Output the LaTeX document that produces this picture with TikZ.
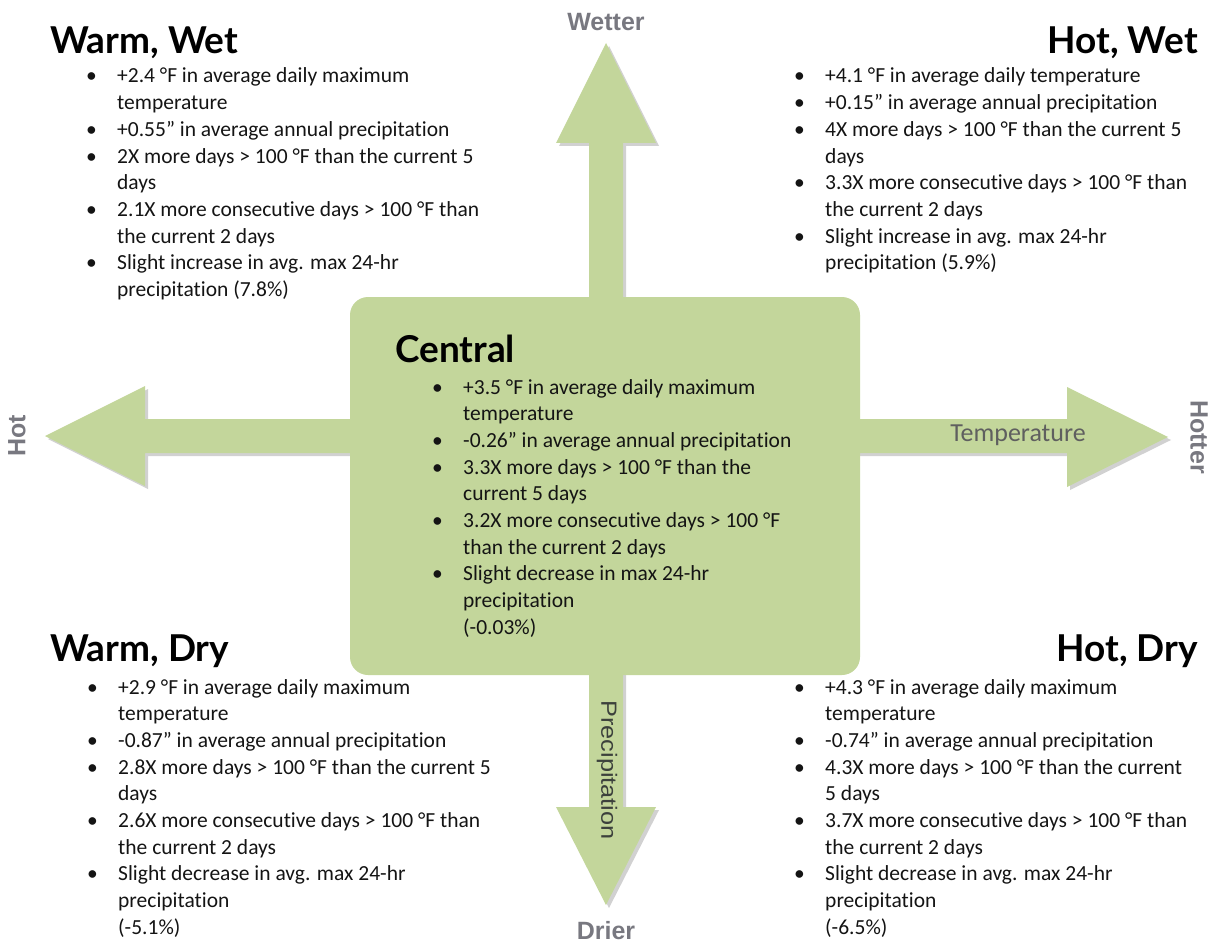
\documentclass[tikz,border=0pt]{standalone}
\usepackage{fontspec}
\setmainfont{Carlito}[Ligatures={NoCommon}]
\newfontfamily\headfont{Lato}[Ligatures={NoCommon}]
\newfontfamily\lblfont{Liberation Sans}
\definecolor{boxgreen}{RGB}{195,214,155}
\definecolor{lblgray}{RGB}{120,120,128}
\definecolor{tempgray}{RGB}{95,95,95}
\definecolor{txt}{RGB}{20,20,20}
\newcommand\bul{\makebox[31pt][l]{•}}
\tikzset{
  arrowshape/.style={fill=boxgreen},
  shadowshape/.style={fill=black,opacity=0.18},
  heading/.style={inner sep=0pt,font=\headfont\bfseries\fontsize{37}{40}\selectfont,text=black},
  blist/.style={inner sep=0pt,anchor=base west,font=\fontsize{21.5}{26.7}\selectfont,text=txt},
  dirlabel/.style={inner sep=0pt,font=\lblfont\bfseries\fontsize{25}{28}\selectfont,text=lblgray},
}
\begin{document}
\begin{tikzpicture}[x=1pt,y=-1pt]
\useasboundingbox (0,0) rectangle (1214,944);
% arrow outlines
\def\uparr{(589,436) -- (589,143) -- (556,143) -- (606,43) -- (656,143) -- (623,143) -- (623,436) -- cycle}
\def\downarr{(589,436) -- (589,807) -- (556,807) -- (606,905) -- (656,807) -- (623,807) -- (623,436) -- cycle}
\def\leftarr{(606,419) -- (145,419) -- (145,386) -- (45,436) -- (145,486) -- (145,453) -- (606,453) -- cycle}
\def\rightarr{(606,419) -- (1067,419) -- (1067,387) -- (1168,437) -- (1067,487) -- (1067,453) -- (606,453) -- cycle}
\begin{scope}[shift={(3,3)}]
  \fill[shadowshape] \uparr;
  \fill[shadowshape] \downarr;
  \fill[shadowshape] \leftarr;
  \fill[shadowshape] \rightarr;
\end{scope}
\fill[arrowshape] \uparr;
\fill[arrowshape] \downarr;
\fill[arrowshape] \leftarr;
\fill[arrowshape] \rightarr;
% central box
\fill[boxgreen, rounded corners=18pt] (350,297) rectangle (860,675);
% direction labels
\node[dirlabel] (wetter) at (606,22) {Wetter};
\node[dirlabel] (drier) at (606,931) {Drier};
\node[dirlabel, rotate=90] (hot) at (17,436) {Hot};
\node[dirlabel, rotate=-90] (hotter) at (1199,437) {Hotter};
\node[inner sep=0pt, font=\fontsize{26}{28}\selectfont, text=tempgray] (temp) at (1018,435) {Temperature};
\node[inner sep=0pt, rotate=-90, font=\lblfont\fontsize{22}{24}\selectfont, text={rgb,255:red,60;green,65;blue,60}] (precip) at (607,770) {\scalebox{1.15}[1]{Precipitation}};
% headings
\node[heading, anchor=base west] (hww) at (50,54) {Warm, Wet};
\node[heading, anchor=base east] (hhw) at (1198,54) {Hot, Wet};
\node[heading, anchor=base west] (hc) at (395,362) {Central};
\node[heading, anchor=base west] (hwd) at (50,661) {Warm, Dry};
\node[heading, anchor=base east] (hhd) at (1198,661) {Hot, Dry};
% lists
\node[blist] (lww) at (86,83) {\begin{tabular}[t]{@{}l@{}l@{}}
\bul & +2.4 °F in average daily maximum\\
 & temperature\\
\bul & +0.55” in average annual precipitation\\
\bul & 2X more days > 100 °F than the current 5\\
 & days\\
\bul & 2.1X more consecutive days > 100 °F than\\
 & the current 2 days\\
\bul & Slight increase in avg. max 24-hr\\
 & precipitation (7.8\%)
\end{tabular}};
\node[blist] (lhw) at (794,83) {\begin{tabular}[t]{@{}l@{}l@{}}
\bul & +4.1 °F in average daily temperature\\
\bul & +0.15” in average annual precipitation\\
\bul & 4X more days > 100 °F than the current 5\\
 & days\\
\bul & 3.3X more consecutive days > 100 °F than\\
 & the current 2 days\\
\bul & Slight increase in avg. max 24-hr\\
 & precipitation (5.9\%)
\end{tabular}};
\node[blist] (lc) at (432,394) {\begin{tabular}[t]{@{}l@{}l@{}}
\bul & +3.5 °F in average daily maximum\\
 & temperature\\
\bul & -0.26” in average annual precipitation\\
\bul & 3.3X more days > 100 °F than the\\
 & current 5 days\\
\bul & 3.2X more consecutive days > 100 °F\\
 & than the current 2 days\\
\bul & Slight decrease in max 24-hr\\
 & precipitation\\
 & (-0.03\%)
\end{tabular}};
\node[blist] (lwd) at (87,694) {\begin{tabular}[t]{@{}l@{}l@{}}
\bul & +2.9 °F in average daily maximum\\
 & temperature\\
\bul & -0.87” in average annual precipitation\\
\bul & 2.8X more days > 100 °F than the current 5\\
 & days\\
\bul & 2.6X more consecutive days > 100 °F than\\
 & the current 2 days\\
\bul & Slight decrease in avg. max 24-hr\\
 & precipitation\\
 & (-5.1\%)
\end{tabular}};
\node[blist] (lhd) at (794,694) {\begin{tabular}[t]{@{}l@{}l@{}}
\bul & +4.3 °F in average daily maximum\\
 & temperature\\
\bul & -0.74” in average annual precipitation\\
\bul & 4.3X more days > 100 °F than the current\\
 & 5 days\\
\bul & 3.7X more consecutive days > 100 °F than\\
 & the current 2 days\\
\bul & Slight decrease in avg. max 24-hr\\
 & precipitation\\
 & (-6.5\%)
\end{tabular}};
\end{tikzpicture}
\end{document}
